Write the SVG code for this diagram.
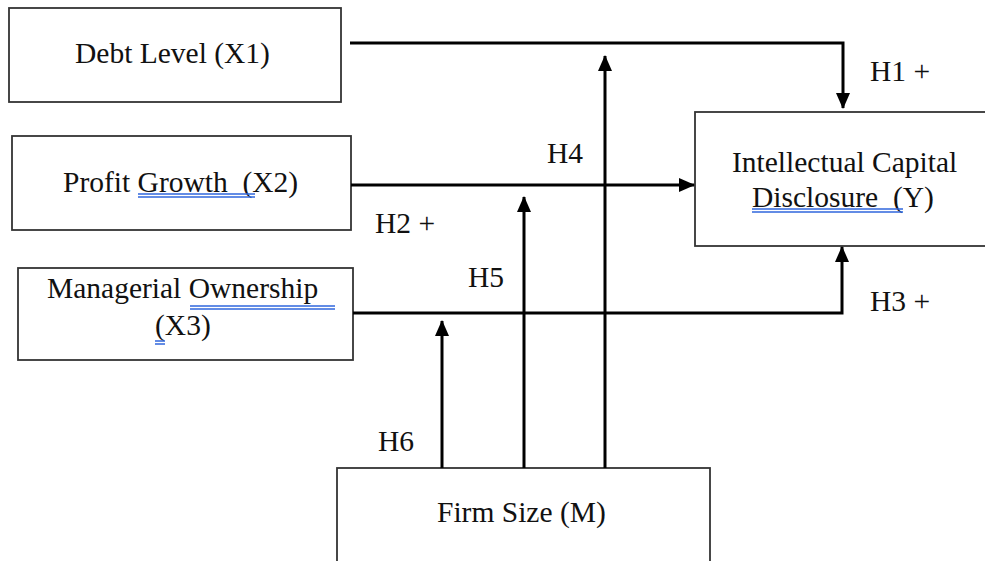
<svg xmlns="http://www.w3.org/2000/svg" width="985" height="561" viewBox="0 0 985 561">
<style>
.box{fill:#fff;stroke:#333;stroke-width:1.8}
.t{font-family:"Liberation Serif","Times New Roman",serif;font-size:29.5px;fill:#111;white-space:pre}
.lab{font-family:"Liberation Serif","Times New Roman",serif;font-size:29.5px;fill:#111;white-space:pre}
.c{fill:none;stroke:#000;stroke-width:3}
.ul{stroke:#2f66dc;stroke-width:1.5}
</style>
<defs>
<marker id="ah" viewBox="0 0 16 14" markerWidth="16" markerHeight="14" refX="15" refY="7" orient="auto" markerUnits="userSpaceOnUse">
<path d="M0,0 L16,7 L0,14 z" fill="#000"/>
</marker>
</defs>
<rect width="985" height="561" fill="#fff"/>
<g id="nodes">
<g id="x1">
<rect class="box" x="9" y="8" width="332" height="94"/>
<text class="t" x="75" y="63">Debt Level (X1)</text>
</g>
<g id="x2">
<rect class="box" x="12" y="136" width="339" height="94"/>
<text class="t" x="63" y="192">Profit Growth  (X2)</text>
<line class="ul" x1="138" y1="194" x2="255" y2="194"/>
<line class="ul" x1="138" y1="197" x2="255" y2="197"/>
</g>
<g id="x3">
<rect class="box" x="18" y="268" width="335" height="92"/>
<text class="t" x="47" y="298">Managerial Ownership </text>
<line class="ul" x1="190" y1="306" x2="335" y2="306"/>
<line class="ul" x1="190" y1="309" x2="335" y2="309"/>
<text class="t" x="155" y="335">(X3)</text>
<line class="ul" x1="155" y1="341" x2="165" y2="341"/>
<line class="ul" x1="155" y1="344" x2="165" y2="344"/>
</g>
<g id="y">
<rect class="box" x="695" y="112" width="300" height="134"/>
<text class="t" x="732" y="172">Intellectual Capital</text>
<text class="t" x="752" y="207">Disclosure  (Y)</text>
<line class="ul" x1="752" y1="209" x2="903" y2="209"/>
<line class="ul" x1="752" y1="212" x2="903" y2="212"/>
</g>
<g id="m">
<rect class="box" x="337" y="468" width="373" height="100"/>
<text class="t" x="437" y="522">Firm Size (M)</text>
</g>
</g>
<g id="connectors">
<path class="c" d="M350,43 H843 V108" marker-end="url(#ah)"/>
<path class="c" d="M351,185 H694" marker-end="url(#ah)"/>
<path class="c" d="M353,313 H842 V247" marker-end="url(#ah)"/>
<path class="c" d="M442,468 V321" marker-end="url(#ah)"/>
<path class="c" d="M524,468 V197" marker-end="url(#ah)"/>
<path class="c" d="M605,468 V56" marker-end="url(#ah)"/>
</g>
<g id="labels">
<text class="lab" x="870" y="81">H1 +</text>
<text class="lab" x="547" y="163">H4</text>
<text class="lab" x="375" y="233">H2 +</text>
<text class="lab" x="468" y="287">H5</text>
<text class="lab" x="870" y="311">H3 +</text>
<text class="lab" x="378" y="451">H6</text>
</g>
</svg>
